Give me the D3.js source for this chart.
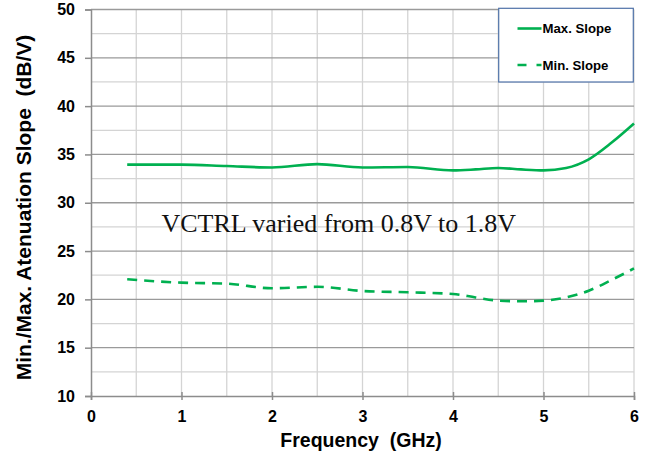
<!DOCTYPE html>
<html><head><meta charset="utf-8">
<script src="https://cdn.jsdelivr.net/npm/d3@7"></script>
<style>
html,body{margin:0;padding:0;background:#fff;}
svg{display:block;}
text{white-space:pre;}
</style></head>
<body>
<script>
const freq = [0.4, 1, 1.5, 2, 2.5, 3, 3.5, 4, 4.25, 4.5, 4.75, 5, 5.25, 5.5, 5.75, 6];
const maxSlope = [33.95, 33.95, 33.8, 33.65, 34.0, 33.65, 33.7, 33.35, 33.45, 33.6, 33.45, 33.35, 33.6, 34.5, 36.2, 38.2];
const minSlope = [22.08, 21.73, 21.63, 21.15, 21.3, 20.87, 20.73, 20.56, 20.2, 19.87, 19.8, 19.87, 20.2, 20.9, 22.0, 23.2];
const xTicks = [0, 1, 2, 3, 4, 5, 6];
const yTicks = [10, 15, 20, 25, 30, 35, 40, 45, 50];
const seriesNames = ["Max. Slope", "Min. Slope"];
const annotation = "VCTRL varied from 0.8V to 1.8V";
const xTitle = "Frequency  (GHz)";
const yTitle = "Min./Max. Atenuation Slope  (dB/V)";

const W = 655, H = 455;
const L = 91, R = 634, T = 9.5, B = 396;
const green = "#00B050";

const svg = d3.select("body").append("svg").attr("width", W).attr("height", H);
const x = d3.scaleLinear().domain([0, 6]).range([L, R]);
const y = d3.scaleLinear().domain([10, 50]).range([B, T]);

const g = svg.append("g");
// minor grid
g.selectAll(".vgrid").data(d3.range(0.5, 6.01, 0.5)).enter().append("line")
  .attr("x1", d => x(d)).attr("x2", d => x(d)).attr("y1", y(10)).attr("y2", y(50))
  .attr("stroke", "#d4d4d4").attr("stroke-width", 1.3);
g.selectAll(".hminor").data(d3.range(12.5, 50, 5)).enter().append("line")
  .attr("x1", L).attr("x2", R).attr("y1", d => y(d)).attr("y2", d => y(d))
  .attr("stroke", "#d4d4d4").attr("stroke-width", 1.3);
g.selectAll(".hmajor").data(yTicks.filter(d => d > 10)).enter().append("line")
  .attr("x1", L).attr("x2", R).attr("y1", d => y(d)).attr("y2", d => y(d))
  .attr("stroke", "#9a9a9a").attr("stroke-width", 1.3);

// axes
const fontSans = "Liberation Sans, Arial, sans-serif";
const yAxis = svg.append("g").attr("transform", `translate(${L},0)`)
  .call(d3.axisLeft(y).tickValues(yTicks).tickSize(6).tickPadding(10));
yAxis.select(".domain").attr("stroke", "#8c8c8c").attr("stroke-width", 1.5);
yAxis.selectAll(".tick line").attr("stroke", "#8c8c8c").attr("stroke-width", 1.5);
yAxis.selectAll("text").attr("font-family", fontSans).attr("font-weight", "bold")
  .attr("font-size", 16).attr("fill", "#000");

const xAxis = svg.append("g").attr("transform", `translate(0,${B})`)
  .call(d3.axisBottom(x).tickValues(xTicks).tickFormat(d3.format("d")).tickSize(4).tickPadding(11));
xAxis.select(".domain").attr("stroke", "#8c8c8c").attr("stroke-width", 1.5);
xAxis.selectAll(".tick line").attr("stroke", "#8c8c8c").attr("stroke-width", 1.5).attr("y1", -4);
xAxis.selectAll("text").attr("font-family", fontSans).attr("font-weight", "bold")
  .attr("font-size", 16).attr("fill", "#000");

// lines
const line = d3.line().curve(d3.curveMonotoneX);
const ptsMax = freq.map((f, i) => [x(f), y(maxSlope[i])]);
const ptsMin = freq.map((f, i) => [x(f), y(minSlope[i])]);
svg.append("path").attr("d", line(ptsMax)).attr("fill", "none").attr("stroke", green).attr("stroke-width", 2.6);
svg.append("path").attr("d", line(ptsMin)).attr("fill", "none").attr("stroke", green).attr("stroke-width", 2.6)
  .attr("stroke-dasharray", "10,7");

// annotation
svg.append("text").attr("x", 161.5).attr("y", 231.5).text(annotation)
  .attr("font-family", "Liberation Serif, Times New Roman, serif").attr("font-size", 26).attr("fill", "#111");

// titles
svg.append("text").attr("x", 361).attr("y", 446.5).attr("text-anchor", "middle").text(xTitle)
  .attr("font-family", fontSans).attr("font-weight", "bold").attr("font-size", 19.5).attr("fill", "#000");
svg.append("text").attr("transform", "translate(31,207.5) rotate(-90)").attr("text-anchor", "middle").text(yTitle)
  .attr("font-family", fontSans).attr("font-weight", "bold").attr("font-size", 21).attr("fill", "#000");

// legend
const lg = svg.append("g");
lg.append("rect").attr("x", 498.7).attr("y", 8.3).attr("width", 134.6).attr("height", 73.7)
  .attr("fill", "#fff").attr("stroke", "#4f72a8").attr("stroke-width", 1.2);
seriesNames.forEach((name, i) => {
  const cy = i === 0 ? 28.5 : 65;
  lg.append("line").attr("x1", 517.5).attr("x2", 541.5).attr("y1", cy).attr("y2", cy)
    .attr("stroke", green).attr("stroke-width", 2.6)
    .attr("stroke-dasharray", i === 0 ? null : "9,10");
  lg.append("text").attr("x", 542.5).attr("y", cy + 4.8).text(name)
    .attr("font-family", fontSans).attr("font-weight", "bold").attr("font-size", 13.2).attr("fill", "#000");
});
</script>
</body></html>
